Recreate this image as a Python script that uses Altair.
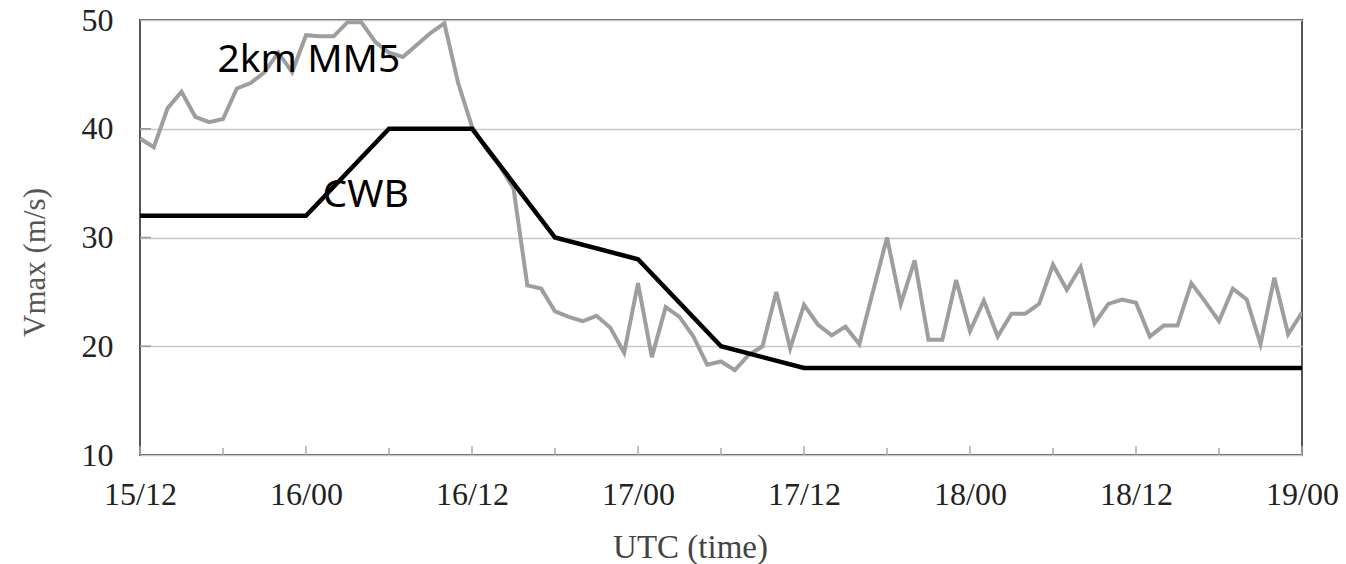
import altair as alt
import pandas as pd

# Hourly 2km MM5 maximum wind (m/s), hours since 15/12 UTC
mm5_hours = list(range(85))
mm5_values = [
    39.1, 38.3, 41.9, 43.4, 41.1, 40.6, 40.9, 43.7, 44.2, 45.2,
    47.0, 45.2, 48.6, 48.5, 48.5, 49.8, 49.8, 48.0, 47.0, 46.6,
    47.7, 48.8, 49.7, 44.2, 40.2, 38.2, 36.6, 34.5, 25.6, 25.3,
    23.2, 22.7, 22.3, 22.8, 21.7, 19.4, 25.8, 19.0, 23.6, 22.7,
    20.9, 18.3, 18.6, 17.8, 19.2, 20.0, 25.0, 19.8, 23.8, 22.0,
    21.0, 21.8, 20.2, 25.1, 30.0, 23.9, 27.9, 20.6, 20.6, 26.1,
    21.4, 24.2, 20.9, 23.0, 23.0, 23.9, 27.5, 25.2, 27.3, 22.1,
    23.9, 24.3, 24.0, 20.9, 21.9, 21.9, 25.8, 24.1, 22.3, 25.3,
    24.3, 20.2, 26.3, 21.1, 23.1,
]

# CWB best track, every 6 h
cwb_hours = [0, 6, 12, 18, 24, 30, 36, 42, 48, 54, 60, 66, 72, 78, 84]
cwb_values = [32, 32, 32, 40, 40, 30, 28, 20, 18, 18, 18, 18, 18, 18, 18]

tick_hours = [0, 12, 24, 36, 48, 60, 72, 84]
tick_labels = ["15/12", "16/00", "16/12", "17/00", "17/12", "18/00", "18/12", "19/00"]
minor_hours = [6, 18, 30, 42, 54, 66, 78]
y_ticks = [10, 20, 30, 40, 50]

ann_labels = ["2km MM5", "CWB"]
ann_hours = [5.6, 13.2]
ann_values = [45.25, 32.8]

mm5 = pd.DataFrame({"hour": mm5_hours, "v": mm5_values})
cwb = pd.DataFrame({"hour": cwb_hours, "v": cwb_values})
major = pd.DataFrame({"hour": tick_hours})
minor = pd.DataFrame({"hour": minor_hours})
ytk = pd.DataFrame({"v": y_ticks[1:-1]})
ann = pd.DataFrame({"label": ann_labels, "hour": ann_hours, "v": ann_values})

label_expr = "[" + ",".join("'%s'" % t for t in tick_labels) + "][round(datum.value/12)]"

xs = alt.Scale(domain=[0, 84], nice=False, zero=False)
ys = alt.Scale(domain=[10, 50], nice=False, zero=False)

x_axis = alt.Axis(
    values=tick_hours, labelExpr=label_expr, grid=False, ticks=False, domain=False,
    labelFont="Liberation Serif", labelFontSize=32, labelColor="#222222",
    labelPadding=24, labelFlush=False, labelOverlap=False,
    title="UTC (time)", titleFont="Liberation Serif", titleFontSize=33,
    titleFontWeight="normal", titleColor="#444444",
    titleX=550, titleY=102, titleBaseline="alphabetic", titleAlign="center",
)
y_axis = alt.Axis(
    values=y_ticks, grid=True, gridColor="#c8c8c8", gridWidth=1.5,
    ticks=False, domain=False,
    labelFont="Liberation Serif", labelFontSize=32, labelColor="#222222",
    labelPadding=27,
    title="Vmax (m/s)", titleFont="Liberation Serif", titleFontSize=31,
    titleFontWeight="normal", titleColor="#555555",
    titleAngle=270, titleX=-105, titleY=242, titleAlign="center", titleBaseline="middle",
)

base_line = alt.Chart(mm5).mark_line(color="#9e9e9e", strokeWidth=4, clip=True).encode(
    x=alt.X("hour:Q", scale=xs, axis=x_axis),
    y=alt.Y("v:Q", scale=ys, axis=y_axis),
)
cwb_line = alt.Chart(cwb).mark_line(color="#000000", strokeWidth=4.5).encode(
    x=alt.X("hour:Q", scale=xs),
    y=alt.Y("v:Q", scale=ys),
)
major_ticks = alt.Chart(major).mark_rule(color="#aaaaaa", strokeWidth=1.5).encode(
    x=alt.X("hour:Q", scale=xs), y=alt.value(435), y2=alt.value(426)
)
minor_ticks = alt.Chart(minor).mark_rule(color="#aaaaaa", strokeWidth=1.5).encode(
    x=alt.X("hour:Q", scale=xs), y=alt.value(435), y2=alt.value(428)
)
y_tick_marks = alt.Chart(ytk).mark_rule(color="#999999", strokeWidth=1.5).encode(
    y=alt.Y("v:Q", scale=ys), x=alt.value(0), x2=alt.value(11)
)
texts = alt.Chart(ann).mark_text(
    font="Noto Sans", fontSize=39, align="left", baseline="alphabetic", color="#000000"
).encode(
    x=alt.X("hour:Q", scale=xs), y=alt.Y("v:Q", scale=ys), text="label:N"
)

chart = alt.layer(
    major_ticks, minor_ticks, y_tick_marks, base_line, cwb_line, texts
).properties(
    width=1162, height=435,
    autosize=alt.AutoSizeParams(type="none"),
    padding={"left": 140, "top": 20, "right": 44, "bottom": 109},
    background="white",
).configure_view(
    stroke="#555555", strokeWidth=2
)

chart.save("out.html", embed_options={"renderer": "svg", "actions": False})
